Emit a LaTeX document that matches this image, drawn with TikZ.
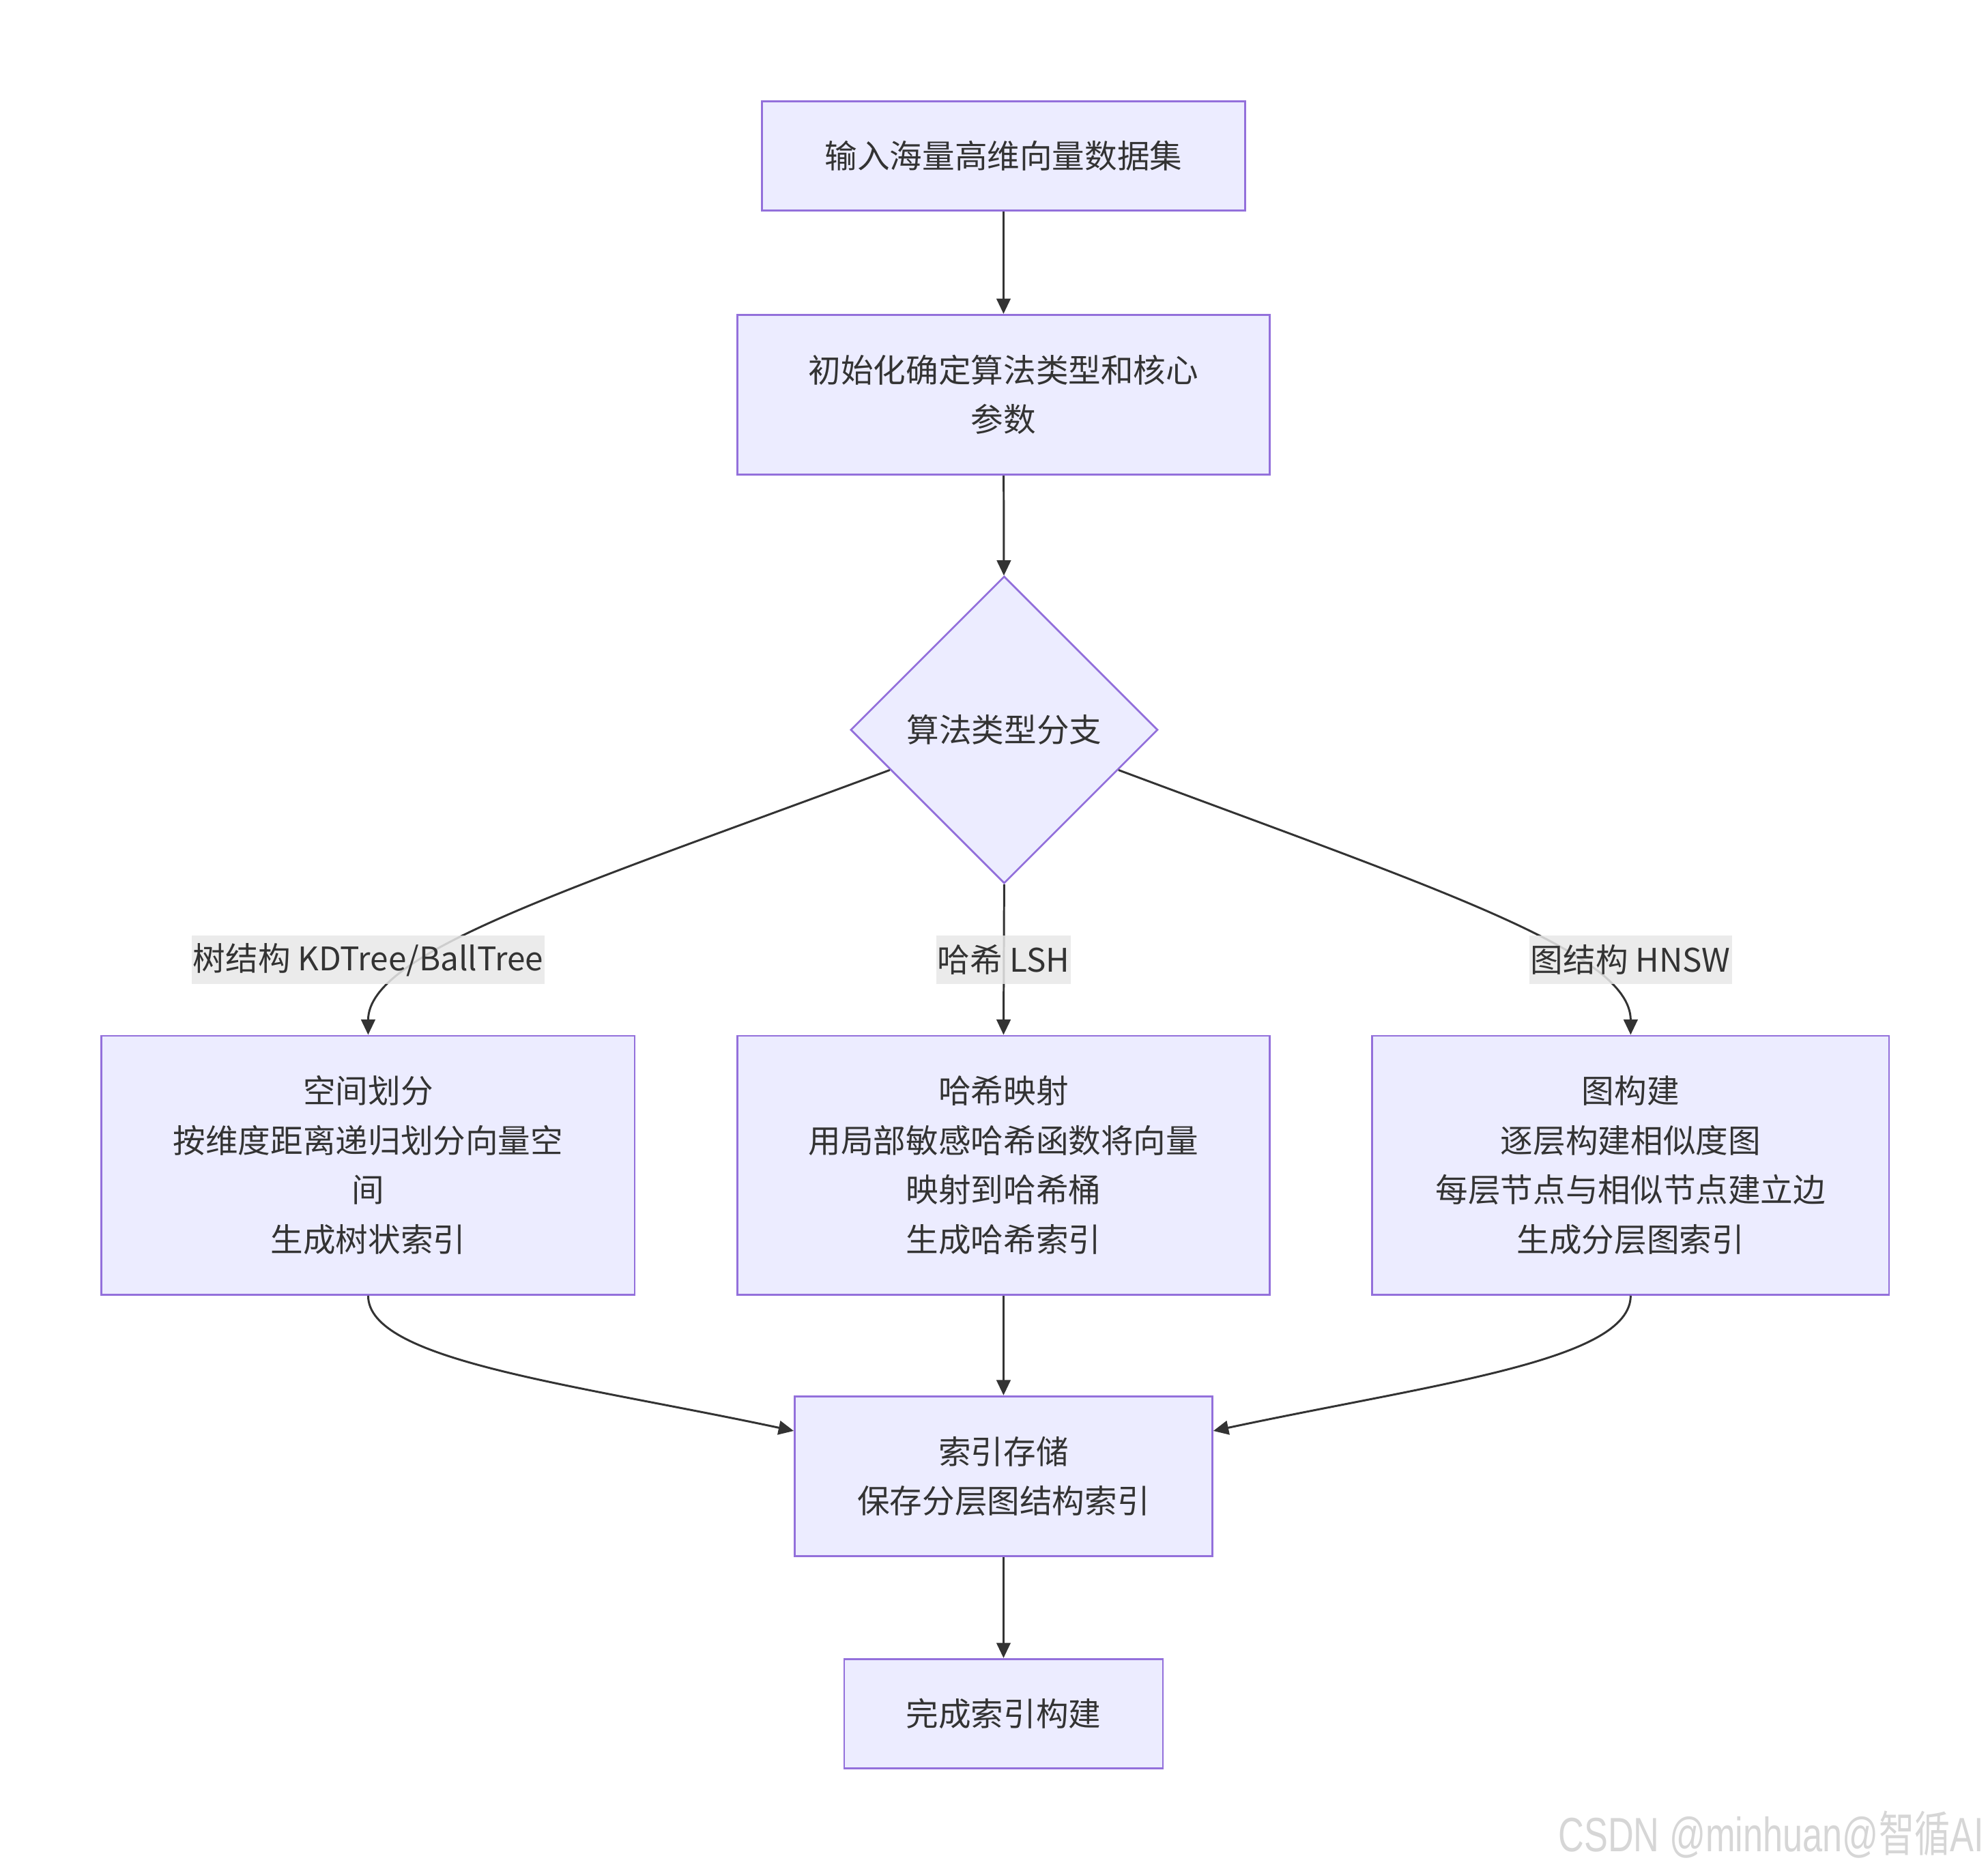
\documentclass[tikz,border=0pt]{standalone}
\usepackage{fontspec}
\setmainfont{Noto Sans CJK SC}
\newfontfamily\wmfont{Liberation Sans}
\newfontfamily\cjkfont{Noto Sans CJK SC}
\usetikzlibrary{shapes.geometric,arrows.meta,calc}
\definecolor{nodefill}{HTML}{ECECFF}
\definecolor{nodeborder}{HTML}{9370DB}
\definecolor{txt}{HTML}{333333}
\definecolor{lblbg}{HTML}{E8E8E8}
\definecolor{wmcol}{HTML}{D6D6D6}
\begin{document}
\begin{tikzpicture}[x=1pt,y=-1pt,
  box/.style={draw=nodeborder, fill=nodefill, line width=1.5pt, text=txt,
    align=center, inner sep=0pt, rectangle,
    font=\fontsize{25.6}{39}\selectfont},
  decision/.style={box, diamond, aspect=1},
  edge/.style={draw=txt, line width=1.6pt,
    -{Triangle[length=12pt,width=11pt]}},
  elabel/.style={fill=lblbg, fill opacity=0.85, text opacity=1, text=txt,
    inner xsep=1pt, inner ysep=0pt, minimum height=38pt,
    font=\fontsize{25.6}{30}\selectfont}
]
\useasboundingbox (0,0) rectangle (1566,1472);

\node[box, minimum width=381pt, minimum height=86pt] (input) at (790.5,123) {输入海量高维向量数据集};
\node[box, minimum width=419pt, minimum height=126pt] (init) at (790.5,311) {初始化确定算法类型和核心\\参数};
\node[decision, minimum width=242pt, minimum height=242pt] (dia) at (791,575) {算法类型分支};

\node[box, minimum width=420pt, minimum height=204pt] (tree) at (290,918)
  {空间划分\\按维度距离递归划分向量空\\间\\生成树状索引};
\node[box, minimum width=419pt, minimum height=204pt] (hash) at (790.5,918)
  {哈希映射\\用局部敏感哈希函数将向量\\映射到哈希桶\\生成哈希索引};
\node[box, minimum width=407pt, minimum height=204pt] (graph) at (1284.5,918)
  {图构建\\逐层构建相似度图\\每层节点与相似节点建立边\\生成分层图索引};

\node[box, minimum width=329pt, minimum height=126pt] (store) at (790.5,1163)
  {索引存储\\保存分层图结构索引};
\node[box, minimum width=251pt, minimum height=86pt] (done) at (790.5,1350) {完成索引构建};

% connectors
\draw[edge] (input) -- (init);
\draw[edge] (init) -- (dia);
\draw[edge] ($(dia.west)!0.26!(dia.south)$) .. controls (450,700) and (290,750) .. (tree.north);
\draw[edge] (dia.south) -- (hash.north);
\draw[edge] ($(dia.east)!0.26!(dia.south)$) .. controls (1131,700) and (1284.5,750) .. (graph.north);
\draw[edge] (tree.south) .. controls (290,1072) and (450,1090) .. ($(store.north west)!0.22!(store.south west)$);
\draw[edge] (hash) -- (store);
\draw[edge] (graph.south) .. controls (1284.5,1072) and (1131,1090) .. ($(store.north east)!0.22!(store.south east)$);
\draw[edge] (store) -- (done);

% edge labels
\node[elabel] (ltree) at (290,756) {树结构 KDTree/BallTree};
\node[elabel] (lhash) at (790.5,756) {哈希 LSH};
\node[elabel] (lgraph) at (1284.5,756) {图结构 HNSW};

% watermark
\node[anchor=base east, text=wmcol, xscale=0.74, inner sep=0pt,
  font=\fontsize{38}{40}\selectfont] (wm) at (1563,1459)
  {\wmfont CSDN @minhuan@{\cjkfont 智循}AI};
\end{tikzpicture}
\end{document}
